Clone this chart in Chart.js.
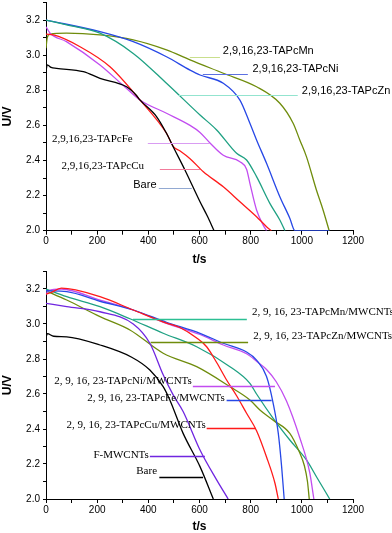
<!DOCTYPE html>
<html>
<head>
<meta charset="utf-8">
<script src="https://cdn.jsdelivr.net/npm/chart.js@4.4.1/dist/chart.umd.min.js"></script>
<style>
  html, body { margin:0; padding:0; background:#fff; }
  #wrap { position:relative; width:392px; height:533px; overflow:hidden; }
  canvas { position:absolute; left:0; }
  #top { top:0; }
  #bot { top:266px; }
</style>
</head>
<body>
<div id="wrap">
  <canvas id="top" width="392" height="266"></canvas>
  <canvas id="bot" width="392" height="267"></canvas>
</div>
<script>
/***** ── top panel: bare electrode + 2,9,16,23-TAPc (t in s, U in V) ── */
const bareT = [0, 5, 20, 41, 146, 211, 315, 352, 367, 432, 471, 500, 543, 602, 630, 657];
const bareU = [2.91, 2.945, 2.93, 2.925, 2.906, 2.868, 2.82, 2.773, 2.745, 2.65, 2.555, 2.47, 2.346, 2.165, 2.085, 2.0];
const cuT   = [0, 30, 133, 250, 367, 471, 498, 523, 563, 615, 693, 758, 823, 862, 881];
const cuU   = [3.12, 3.115, 3.048, 2.934, 2.745, 2.555, 2.479, 2.455, 2.41, 2.336, 2.25, 2.165, 2.08, 2.023, 2.0];
const feT   = [0, 16, 80, 211, 300, 367, 471, 563, 602, 641, 693, 758, 784, 797, 823, 849, 862];
const feU   = [3.162, 3.125, 3.077, 2.944, 2.83, 2.745, 2.669, 2.60, 2.56, 2.50, 2.43, 2.393, 2.35, 2.27, 2.118, 2.032, 2.0];
const znT   = [0, 81, 211, 341, 471, 602, 667, 745, 784, 823, 875, 914, 934];
const znU   = [3.2, 3.172, 3.125, 3.01, 2.84, 2.659, 2.574, 2.441, 2.403, 2.308, 2.156, 2.061, 2.0];
const niT   = [0, 211, 341, 471, 563, 602, 693, 758, 797, 823, 862, 914, 953, 973, 1107];
const niU   = [3.2, 3.134, 3.077, 2.991, 2.915, 2.887, 2.84, 2.744, 2.612, 2.517, 2.384, 2.194, 2.071, 2.0, 2.0];
const mnT   = [0, 5, 16, 80, 211, 341, 471, 563, 693, 823, 914, 966, 992, 1018, 1057, 1083, 1107];
const mnU   = [3.04, 3.10, 3.12, 3.125, 3.115, 3.087, 3.03, 2.973, 2.897, 2.82, 2.726, 2.612, 2.517, 2.422, 2.232, 2.118, 2.0];

/***** ── bottom panel: /MWCNTs ── */
const bare2T = [0, 5, 30, 81, 211, 335, 406, 458, 484, 536, 602, 654];
const bare2U = [2.92, 2.945, 2.93, 2.927, 2.88, 2.81, 2.737, 2.642, 2.566, 2.375, 2.185, 2.0];
const fmwT   = [0, 81, 211, 341, 406, 458, 497, 536, 602, 667, 712];
const fmwU   = [3.118, 3.099, 3.07, 3.0, 2.89, 2.71, 2.595, 2.5, 2.28, 2.109, 2.0];
const cu2T   = [0, 20, 60, 211, 341, 471, 523, 589, 628, 667, 706, 745, 784, 823, 862, 895, 908];
const cu2U   = [3.17, 3.18, 3.205, 3.156, 3.08, 3.005, 2.98, 2.92, 2.87, 2.78, 2.68, 2.59, 2.49, 2.39, 2.24, 2.09, 2.0];
const fe2T   = [0, 81, 211, 341, 471, 602, 693, 784, 823, 862, 888, 908, 921, 931];
const fe2U   = [3.19, 3.185, 3.13, 3.08, 3.01, 2.947, 2.89, 2.84, 2.794, 2.70, 2.547, 2.375, 2.185, 2.0];
const ni2T   = [0, 10, 60, 211, 341, 471, 602, 693, 784, 829, 862, 900, 940, 992, 1031, 1047];
const ni2U   = [3.17, 3.19, 3.2, 3.137, 3.08, 3.004, 2.94, 2.88, 2.83, 2.78, 2.74, 2.67, 2.56, 2.35, 2.15, 2.0];
const zn2T   = [0, 81, 211, 328, 458, 589, 719, 797, 836, 888, 953, 990, 1010, 1022, 1029];
const zn2U   = [3.19, 3.137, 3.042, 2.966, 2.833, 2.756, 2.642, 2.566, 2.509, 2.45, 2.375, 2.27, 2.19, 2.1, 2.0];
const mn2T   = [0, 81, 211, 328, 458, 589, 719, 797, 823, 888, 953, 1018, 1060, 1109];
const mn2U   = [3.2, 3.156, 3.099, 3.03, 2.947, 2.87, 2.756, 2.661, 2.60, 2.461, 2.337, 2.223, 2.12, 2.0];

/***** ── axes ── */
const T_MIN = 0, T_MAX = 1200, T_STEP = 100;
const U_MIN = 2.0, U_MAX = 3.3, U_STEP = 0.1;

const C = {
  black:'#000000', red:'#ff1a1a', violet:'#c24df0', teal:'#1fa183', blue:'#2748e6', olive:'#6f8c0c', purple:'#7026e0'
};
const SANS = '"Liberation Sans", Arial, sans-serif';
const SERIF = '"Liberation Serif", "Times New Roman", serif';

function pts(t, u){ return t.map((v,i)=>({x:v, y:u[i]})); }
function ds(t, u, color){ return { data: pts(t,u), borderColor: color }; }

// labels with a short leader line, placed in data units
const labelPlugin = {
  id: 'tags',
  afterDatasetsDraw(chart, args, opts){
    const {ctx, scales:{x, y}} = chart;
    ctx.save();
    for (const a of (opts.items || [])) {
      const yl = Math.round(y.getPixelForValue(a.u)) + 0.5;
      ctx.strokeStyle = a.color; ctx.lineWidth = a.lw || 1;
      ctx.beginPath();
      ctx.moveTo(x.getPixelForValue(a.t1), yl);
      ctx.lineTo(x.getPixelForValue(a.t2), yl);
      ctx.stroke();
      ctx.font = a.font;
      ctx.fillStyle = '#000';
      ctx.textBaseline = 'middle';
      ctx.textAlign = a.align;
      ctx.fillText(a.text, x.getPixelForValue(a.tx), y.getPixelForValue(a.ty));
    }
    ctx.restore();
  }
};

function options(padTop, xH, titlePadBottom, items){
  return {
    responsive: false, animation: false, devicePixelRatio: 1,
    layout: { padding: { top: padTop, right: 39, left: 0, bottom: 0 } },
    elements: {
      point: { radius: 0 },
      line: { borderWidth: 1.3, cubicInterpolationMode: 'monotone', fill: false }
    },
    plugins: { legend: { display: false }, tooltip: { enabled: false }, tags: { items } },
    scales: {
      x: {
        type: 'linear', min: T_MIN, max: T_MAX,
        afterFit(s){ s.height = xH; s.paddingLeft = 0; s.paddingRight = 0; },
        ticks: {
          stepSize: T_STEP, autoSkip: false, maxRotation: 0, padding: 1, color: '#000',
          font: { family: SANS, size: 10 },
          callback: v => (Math.round(v) % 200 === 0 ? String(Math.round(v)) : '')
        },
        grid: { drawOnChartArea: false, tickLength: 4, color: '#000' },
        border: { color: '#000', width: 1 },
        title: { display: true, text: 't/s', color: '#000', padding: { top: 0, bottom: titlePadBottom },
                 font: { family: SANS, size: 12, weight: 'bold', lineHeight: 1 } }
      },
      y: {
        min: U_MIN, max: U_MAX,
        afterFit(s){ s.width = 46; s.paddingTop = 0; s.paddingBottom = 0; },
        ticks: {
          stepSize: U_STEP, padding: 3, color: '#000',
          font: { family: SANS, size: 10 },
          callback: v => { const k = Math.round(v * 10); return (k % 2 === 0 && k <= 32) ? (k / 10).toFixed(1) : ''; }
        },
        grid: { drawOnChartArea: false, tickLength: 3, color: '#000' },
        border: { color: '#000', width: 1 },
        title: { display: true, text: 'U/V', color: '#000', padding: { top: 1.5, bottom: 0 },
                 font: { family: SANS, size: 12, weight: 'bold', lineHeight: 1 } }
      }
    }
  };
}

const f11s = `11px ${SANS}`;
const f11r = `11px ${SERIF}`;

const topTags = [
  { text:'2,9,16,23-TAPcMn', font:f11s, align:'left',  tx:691, ty:3.024, t1:562, t2:680, u:2.991, color:'#c9df8c' },
  { text:'2,9,16,23-TAPcNi', font:f11s, align:'left',  tx:807, ty:2.920, t1:613, t2:789, u:2.893, color:'#5c70e2' },
  { text:'2,9,16,23-TAPcZn', font:f11s, align:'left',  tx:1000, ty:2.796, t1:516, t2:984, u:2.773, color:'#93e4cf' },
  { text:'2,9,16,23-TAPcFe', font:f11r, align:'right', tx:339, ty:2.523, t1:398, t2:641, u:2.501, color:'#d99cf2' },
  { text:'2,9,16,23-TAPcCu', font:f11r, align:'right', tx:383, ty:2.369, t1:445, t2:602, u:2.350, color:'#f27b9b' },
  { text:'Bare',             font:f11s, align:'right', tx:432, ty:2.260, t1:441, t2:570, u:2.242, color:'#92a9d2' }
];

const botTags = [
  { text:'2, 9, 16, 23-TAPcMn/MWCNTs', font:f11r, align:'left',  tx:805, ty:3.067, t1:340, t2:785, u:3.026, color:'#2cbf93', lw:1.3 },
  { text:'2, 9, 16, 23-TAPcZn/MWCNTs', font:f11r, align:'left',  tx:810, ty:2.933, t1:409, t2:790, u:2.897, color:C.olive, lw:1.3 },
  { text:'2, 9, 16, 23-TAPcNi/MWCNTs', font:f11r, align:'right', tx:570, ty:2.674, t1:574, t2:895, u:2.644, color:C.violet, lw:1.3 },
  { text:'2, 9, 16, 23-TAPcFe/MWCNTs', font:f11r, align:'right', tx:699, ty:2.579, t1:706, t2:882, u:2.563, color:C.blue, lw:1.3 },
  { text:'2, 9, 16, 23-TAPcCu/MWCNTs', font:f11r, align:'right', tx:625, ty:2.423, t1:628, t2:820, u:2.406, color:C.red, lw:1.3 },
  { text:'F-MWCNTs',                   font:f11r, align:'right', tx:402, ty:2.251, t1:406, t2:621, u:2.243, color:C.purple, lw:1.3 },
  { text:'Bare',                       font:f11r, align:'right', tx:434, ty:2.160, t1:443, t2:614, u:2.126, color:C.black, lw:1.3 }
];

new Chart(document.getElementById('top'), {
  type: 'line',
  data: { datasets: [
    ds(bareT, bareU, C.black),
    ds(cuT, cuU, C.red),
    ds(feT, feU, C.violet),
    ds(znT, znU, C.teal),
    ds(niT, niU, C.blue),
    ds(mnT, mnU, C.olive)
  ]},
  options: options(2.5, 35.3, 0.8, topTags),
  plugins: [labelPlugin]
});

new Chart(document.getElementById('bot'), {
  type: 'line',
  data: { datasets: [
    ds(bare2T, bare2U, C.black),
    ds(fmwT, fmwU, C.purple),
    ds(cu2T, cu2U, C.red),
    ds(fe2T, fe2U, C.blue),
    ds(ni2T, ni2U, C.violet),
    ds(zn2T, zn2U, C.olive),
    ds(mn2T, mn2U, C.teal)
  ]},
  options: options(5.5, 34, 0, botTags),
  plugins: [labelPlugin]
});
</script>
</body>
</html>
